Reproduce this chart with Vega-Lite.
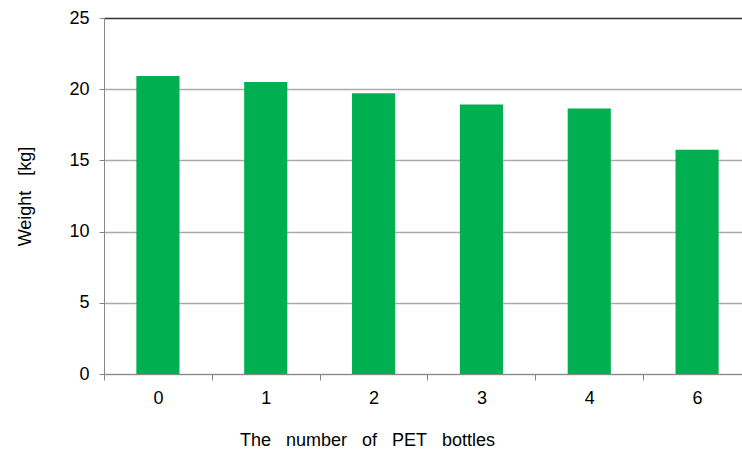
{
  "$schema": "https://vega.github.io/schema/vega-lite/v6.json",
  "width": 647,
  "height": 356,
  "autosize": {"type": "none"},
  "padding": {"left": 104, "top": 18, "right": 0, "bottom": 80},
  "background": "white",
  "config": {
    "view": {"stroke": null},
    "font": "Liberation Sans",
    "axis": {"labelFont": "Liberation Sans", "titleFont": "Liberation Sans", "labelColor": "#000", "titleColor": "#000", "titleFontWeight": "normal", "labelFontSize": 18, "titleFontSize": 18}
  },
  "data": {
    "values": [
      {"bottles": "0", "weight": 20.93},
      {"bottles": "1", "weight": 20.5},
      {"bottles": "2", "weight": 19.72},
      {"bottles": "3", "weight": 18.92},
      {"bottles": "4", "weight": 18.64},
      {"bottles": "6", "weight": 15.75}
    ]
  },
  "mark": {"type": "bar", "color": "#00B050"},
  "encoding": {
    "x": {
      "field": "bottles",
      "type": "ordinal",
      "sort": null,
      "scale": {"paddingInner": 0.6, "paddingOuter": 0.3},
      "axis": {
        "title": "The\u00a0\u00a0 number\u00a0\u00a0 of\u00a0\u00a0 PET\u00a0\u00a0 bottles",
        "labelAngle": 0,
        "bandPosition": 0.5,
        "tickOffset": -53.92,
        "labelOffset": 53.92,
        "tickSize": 6,
        "tickColor": "#888",
        "domainColor": "#888",
        "labelPadding": 9,
        "titleX": 263,
        "titleY": 66,
        "titleBaseline": "middle",
        "titleAnchor": null,
        "grid": false
      }
    },
    "y": {
      "field": "weight",
      "type": "quantitative",
      "scale": {"domain": [0, 25], "nice": false},
      "axis": {
        "title": "Weight\u00a0\u00a0 [kg]",
        "values": [0, 5, 10, 15, 20, 25],
        "tickSize": 5,
        "tickColor": "#888",
        "domainColor": "#888",
        "gridColor": {"condition": {"test": "datum.value === 25", "value": "#333"}, "value": "#aaa"},
        "gridWidth": 1.5,
        "labelPadding": 10,
        "titleAngle": -90,
        "titleX": -79,
        "titleY": 178,
        "titleAlign": "center",
        "titleBaseline": "middle",
        "titleAnchor": null
      }
    }
  }
}
